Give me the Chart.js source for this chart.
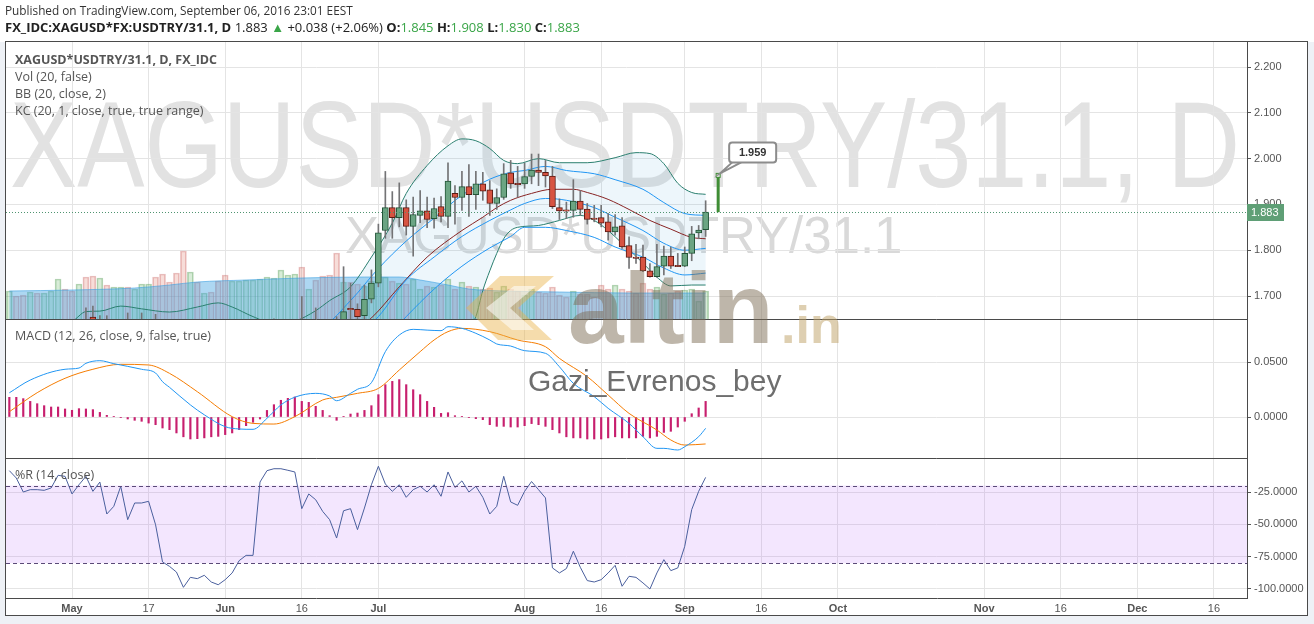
<!DOCTYPE html>
<html>
<head>
<meta charset="utf-8">
<title>XAGUSD*USDTRY/31.1, D</title>
<script src="https://cdn.jsdelivr.net/npm/chart.js@4.4.1/dist/chart.umd.min.js"></script>
<style>
  html, body { margin: 0; padding: 0; background: #fff; }
  body { width: 1314px; height: 624px; position: relative; overflow: hidden; font-family: "Open Sans", sans-serif; }
  .abs { position: absolute; white-space: nowrap; }
  #wmBig { left: 10px; top: 84px; font: 122px/122px "Liberation Sans Narrow", sans-serif; color: #e2e2e2; transform-origin: 0 0; }
  #wmSmall { left: 345px; top: 210px; font: 51px/51px "Liberation Sans", sans-serif; color: #d9d9d9; }
  #chart { position: absolute; left: 0; top: 0; }
  #pub { left: 5px; top: 2px; font-size: 11.8px; line-height: 17px; color: #333; }
  #sym { left: 5px; top: 19px; font-size: 13px; line-height: 17px; color: #222; }
  .g { color: #3aa548; }
  .leg { left: 15px; font-size: 12.5px; line-height: 17px; color: #555; }
  #altin { left: 568px; top: 258px; font: bold 100px/100px "Liberation Sans", sans-serif; color: rgba(125,110,85,0.5); }
  #dotin { left: 781px; top: 299px; font: bold 52px/52px "Liberation Sans", sans-serif; color: rgba(190,160,100,0.5); }
  #chev { left: 462px; top: 268px; }
  #gazi { left: 528px; top: 366px; font: 30px/30px "Liberation Sans", sans-serif; color: #6e6e6e; }
</style>
</head>
<body>
<div id="wmBig" class="abs">XAGUSD*USDTRY/31.1, D</div>
<div id="wmSmall" class="abs">XAGUSD*USDTRY/31.1</div>
<canvas id="chart" width="1314" height="624"></canvas>

<div id="pub" class="abs">Published on TradingView.com, September 06, 2016 23:01 EEST</div>
<div id="sym" class="abs"><b>FX_IDC:XAGUSD*FX:USDTRY/31.1, D</b> 1.883 <span class="g">&#9650;</span> +0.038 (+2.06%) <b>O:</b><span class="g">1.845</span> <b>H:</b><span class="g">1.908</span> <b>L:</b><span class="g">1.830</span> <b>C:</b><span class="g">1.883</span></div>
<div class="abs leg" style="top:51px"><b>XAGUSD*USDTRY/31.1, D, FX_IDC</b></div>
<div class="abs leg" style="top:68px">Vol (20, false)</div>
<div class="abs leg" style="top:85px">BB (20, close, 2)</div>
<div class="abs leg" style="top:102px">KC (20, 1, close, true, true range)</div>
<div class="abs leg" style="top:327px">MACD (12, 26, close, 9, false, true)</div>
<div class="abs leg" style="top:466px">%R (14, close)</div>

<svg id="chev" class="abs" width="100" height="80" viewBox="0 0 100 80">
  <polygon points="38,8 92,8 56,40 90,72 36,72 4,40" fill="rgba(232,178,70,0.45)"/>
  <polygon points="52,18 74,18 48,40 72,62 50,62 24,40" fill="rgba(255,255,255,0.55)"/>
</svg>
<div id="altin" class="abs">altin</div>
<div id="dotin" class="abs">.in</div>
<div id="gazi" class="abs">Gazi_Evrenos_bey</div>

<script>
// bar index 0 = Mon 2 May 2016, one index per weekday; first bar is Tue 19 Apr
const firstIdx = -9;

const opens = [
  1.625,1.635,1.628,1.615,1.620,1.618,1.622,1.625,1.640,1.638,
  1.622,1.645,1.654,1.630,1.645,1.615,1.625,1.640,1.610,1.625,
  1.626,1.628,1.600,1.575,1.572,1.565,1.552,1.566,1.562,1.568,
  1.560,1.566,1.560,1.568,1.582,1.588,1.589,1.632,1.642,1.640,
  1.641,1.638,1.643,1.610,1.620,1.615,1.612,1.600,1.625,1.673,
  1.671,1.657,1.693,1.728,1.843,1.893,1.871,1.893,1.852,1.876,
  1.886,1.869,1.895,1.874,1.924,1.915,1.939,1.921,1.945,1.932,
  1.902,1.915,1.969,1.946,1.945,1.961,1.975,1.970,1.962,1.893,
  1.888,1.887,1.907,1.890,1.870,1.871,1.862,1.840,1.853,1.810,
  1.785,1.785,1.755,1.742,1.765,1.787,1.767,1.765,1.793,1.838,
  1.845];
const highs = [
  1.640,1.642,1.636,1.630,1.628,1.630,1.635,1.645,1.646,1.642,
  1.640,1.674,1.678,1.657,1.657,1.632,1.645,1.663,1.630,1.663,
  1.640,1.660,1.612,1.585,1.580,1.575,1.572,1.572,1.575,1.570,
  1.566,1.570,1.572,1.585,1.592,1.595,1.640,1.648,1.650,1.649,
  1.649,1.648,1.699,1.625,1.674,1.630,1.625,1.655,1.764,1.728,
  1.683,1.724,1.757,1.857,1.972,1.928,1.947,1.910,1.916,1.930,
  1.916,1.914,1.917,1.991,1.941,1.972,1.987,1.972,1.970,1.952,
  1.934,1.989,1.996,1.983,1.990,2.010,2.010,1.996,1.983,1.912,
  1.905,1.954,1.930,1.902,1.898,1.898,1.880,1.878,1.871,1.829,
  1.813,1.811,1.771,1.813,1.809,1.807,1.793,1.807,1.852,1.854,
  1.908];
const lows = [
  1.615,1.622,1.610,1.608,1.612,1.612,1.615,1.620,1.628,1.618,
  1.620,1.638,1.625,1.625,1.610,1.610,1.620,1.605,1.605,1.615,
  1.618,1.595,1.570,1.565,1.560,1.548,1.550,1.558,1.558,1.556,
  1.552,1.550,1.556,1.565,1.575,1.580,1.588,1.625,1.635,1.632,
  1.630,1.630,1.600,1.600,1.610,1.605,1.595,1.580,1.600,1.650,
  1.645,1.650,1.685,1.720,1.826,1.826,1.851,1.833,1.787,1.860,
  1.849,1.848,1.862,1.849,1.857,1.887,1.874,1.889,1.909,1.876,
  1.889,1.911,1.935,1.916,1.935,1.945,1.941,1.938,1.891,1.867,
  1.869,1.872,1.876,1.857,1.862,1.851,1.822,1.833,1.804,1.760,
  1.771,1.753,1.741,1.741,1.746,1.760,1.764,1.764,1.777,1.825,
  1.830];
const closes = [
  1.635,1.628,1.615,1.620,1.618,1.622,1.625,1.640,1.638,1.622,
  1.635,1.642,1.630,1.645,1.615,1.625,1.640,1.610,1.625,1.626,
  1.628,1.600,1.575,1.572,1.565,1.552,1.566,1.562,1.568,1.560,
  1.558,1.560,1.568,1.582,1.588,1.589,1.632,1.642,1.645,1.646,
  1.645,1.643,1.610,1.620,1.615,1.612,1.600,1.590,1.666,1.670,
  1.655,1.693,1.728,1.838,1.893,1.871,1.893,1.852,1.878,1.886,
  1.867,1.891,1.874,1.951,1.915,1.939,1.921,1.945,1.929,1.902,
  1.915,1.967,1.945,1.943,1.961,1.975,1.970,1.962,1.895,1.886,
  1.885,1.907,1.889,1.867,1.867,1.859,1.840,1.851,1.807,1.784,
  1.782,1.755,1.742,1.764,1.787,1.765,1.764,1.793,1.836,1.844,
  1.883];
const volumes = [
  28,23,24,27,26,26,28,40,30,28,
  35,42,43,41,34,32,32,32,30,35,
  35,42,45,37,46,68,47,37,26,27,
  38,44,38,38,39,39,40,42,41,49,
  44,45,52,30,39,43,44,66,37,37,
  35,33,38,45,42,38,36,35,40,30,
  33,32,34,40,30,37,33,32,30,31,
  27,33,30,28,24,30,27,26,32,24,
  22,28,25,25,22,34,30,34,30,28,
  26,36,30,32,25,26,28,29,30,18,
  28];
const histogram = [
  0.0179,0.0179,0.0167,0.0142,0.0121,0.0103,0.0091,0.0091,0.0073,0.0061,
  0.0076,0.0073,0.0067,0.0042,0.0015,0.0006,-0.0006,-0.0018,-0.003,-0.0039,
  -0.0055,-0.007,-0.010,-0.0115,-0.0145,-0.018,-0.020,-0.0197,-0.019,-0.018,
  -0.0176,-0.016,-0.0145,-0.0115,-0.0079,-0.0048,-0.0018,0.006,0.0112,0.0152,
  0.017,0.0182,0.0142,0.0133,0.0097,0.006,0.0012,-0.003,0.0006,0.0027,
  0.0036,0.006,0.0103,0.0203,0.0294,0.0324,0.034,0.0294,0.0248,0.0203,
  0.0142,0.0088,0.0033,0.0039,0.0012,0.0006,-0.0006,-0.0015,-0.0024,-0.007,
  -0.0085,-0.0085,-0.0091,-0.0091,-0.0079,-0.006,-0.007,-0.0085,-0.0115,-0.0145,
  -0.018,-0.019,-0.019,-0.020,-0.020,-0.020,-0.019,-0.018,-0.019,-0.019,
  -0.019,-0.0176,-0.019,-0.0176,-0.014,-0.013,-0.0091,-0.0039,0.003,0.0082,
  0.0142];
const williamsR = [
  -8.5,-14.2,-25,-23.2,-23.2,-23.7,-21.9,-12.1,-12.9,-26.5,
  -19.4,-12.9,-24.5,-17.3,-42,-36.1,-20.6,-46.4,-33.5,-33.5,
  -32.2,-50.3,-79.1,-82.5,-86.9,-98.7,-91,-92,-89.4,-94.6,
  -96.7,-92.8,-87.6,-78.1,-74,-74,-17.3,-8.5,-7,-7,
  -8.2,-9.5,-37.9,-26.5,-31,-40,-46.4,-60.6,-39.5,-37.9,
  -54.1,-37.4,-19.4,-5.1,-18.8,-24.5,-19.4,-29.1,-23.2,-20.6,
  -25,-19.4,-28.3,-9.5,-21.5,-16.4,-25,-20.6,-29.1,-42,
  -36.1,-12.9,-32.7,-35.3,-24.5,-16.9,-23.2,-29.6,-83.7,-87.6,
  -84.2,-70.8,-83.2,-93.5,-94.6,-92.8,-87.6,-81.7,-97.9,-90.2,
  -91,-95.3,-100,-87.6,-77.3,-85.8,-83.7,-67,-38.6,-24.5,
  -13.7];

// indicator lines as [bar index, value]
const bbUpper = [[-9,1.630],[-4,1.638],[0,1.645],[2,1.666],[4,1.667],[7,1.678],[10,1.672],[14,1.665],[18,1.676],[21,1.685],[23,1.676],[26,1.655],[29,1.640],[32,1.645],[35,1.668],[37,1.690],[40,1.720],[43,1.785],[46,1.859],[48,1.924],[51,1.985],[54,2.028],[56,2.043],[58,2.039],[60,2.022],[62,1.996],[64,1.989],[67,2.000],[70,1.991],[74,1.991],[78,2.002],[81,2.013],[83,2.011],[85,1.989],[87,1.946],[89,1.926],[91,1.922]];
const bbBasis = [[-9,1.590],[10,1.600],[20,1.595],[30,1.590],[38,1.600],[41,1.630],[43,1.652],[47,1.720],[51,1.785],[56,1.843],[59,1.872],[61,1.893],[63,1.909],[66,1.924],[69,1.933],[72,1.933],[74,1.926],[77,1.911],[80,1.889],[83,1.865],[86,1.846],[89,1.828],[91,1.825]];
const bbLower = [[-9,1.550],[10,1.530],[20,1.520],[30,1.520],[38,1.520],[44,1.510],[50,1.530],[55,1.590],[57,1.630],[58,1.655],[59,1.712],[60,1.755],[61,1.793],[62,1.825],[63,1.843],[64,1.850],[67,1.854],[70,1.865],[73,1.876],[75,1.865],[77,1.843],[79,1.815],[82,1.772],[84,1.741],[86,1.722],[89,1.724],[91,1.724]];
const kcUpper = [[-9,1.635],[0,1.640],[10,1.645],[20,1.630],[30,1.625],[36,1.635],[40,1.690],[44,1.760],[48,1.820],[52,1.870],[56,1.920],[60,1.955],[63,1.970],[65,1.974],[68,1.983],[71,1.974],[75,1.967],[78,1.954],[82,1.933],[85,1.904],[88,1.880],[91,1.876]];
const kcBasis = [[-9,1.600],[10,1.605],[20,1.590],[30,1.595],[38,1.605],[41,1.615],[44,1.655],[48,1.735],[52,1.785],[56,1.830],[60,1.865],[63,1.888],[65,1.902],[68,1.913],[71,1.909],[75,1.893],[78,1.872],[82,1.843],[85,1.815],[88,1.800],[91,1.804]];
const kcLower = [[-9,1.560],[20,1.550],[38,1.560],[44,1.590],[48,1.655],[52,1.715],[56,1.765],[60,1.805],[63,1.830],[65,1.850],[68,1.850],[71,1.843],[75,1.828],[78,1.807],[82,1.785],[85,1.761],[88,1.746],[91,1.750]];
const volMa = [[-9,28],[0,29],[9,31],[14,34],[18,37],[25,39],[33,41],[42,42],[47,42],[50,39],[54,34],[57,30],[62,28],[70,27],[80,26],[91,26]];
const macdLine = [[-9,0.022],[-6,0.0336],[-1,0.0434],[1,0.0445],[2,0.0488],[4,0.0512],[6,0.0485],[10,0.0434],[12,0.040],[13,0.0321],[14,0.027],[17,0.011],[19,0.002],[22,-0.0088],[24,-0.0109],[26,-0.0112],[28,-0.0012],[30,0.011],[32,0.018],[35,0.0215],[37,0.0191],[38,0.0148],[40,0.0215],[41,0.0252],[43,0.0312],[45,0.0594],[47,0.0745],[49,0.0797],[51,0.0790],[53,0.0785],[54,0.0821],[56,0.0806],[58,0.0761],[60,0.070],[61,0.0664],[63,0.0645],[65,0.0603],[68,0.0579],[70,0.0457],[72,0.0306],[75,0.0185],[77,0.0079],[80,-0.0058],[82,-0.0179],[84,-0.0285],[85,-0.0285],[87,-0.030],[88,-0.027],[90,-0.0179],[91,-0.0103]];
const signalLine = [[-9,0.0048],[-5,0.0221],[-1,0.0352],[3,0.0434],[7,0.0479],[11,0.0473],[14,0.0397],[18,0.023],[23,0.0003],[26,-0.0058],[29,-0.0064],[32,0.0003],[36,0.0155],[38,0.0179],[41,0.0215],[44,0.026],[47,0.0427],[50,0.0594],[52,0.070],[54,0.0776],[56,0.0806],[60,0.0776],[64,0.070],[68,0.0639],[70,0.0533],[74,0.0367],[77,0.020],[80,0.0033],[84,-0.0118],[86,-0.0209],[88,-0.0255],[91,-0.0245]];

// axis ticks
const tickIdx = [0, 11, 22, 33, 44, 65, 76, 88, 99, 110, 131, 142, 153, 164];
const tickText = ['May', '17', 'Jun', '16', 'Jul', 'Aug', '16', 'Sep', '16', 'Oct', 'Nov', '16', 'Dec', '16'];
const priceTicks = [1.7, 1.8, 1.9, 2.0, 2.1, 2.2];
const macdTicks = [0, 0.05];
const wrTicks = [-25, -50, -75, -100];
const wrLevels = [-20, -80];

// price note drawn on the chart
const noteIdx = 92.8, noteLow = 1.883, noteHigh = 1.959;

const idx = opens.map((_, i) => firstIdx + i);
const isUp = idx.map((_, i) => closes[i] >= opens[i]);
const lastClose = closes[closes.length - 1];
const pairs = a => a.map(([x, y]) => ({x, y}));

function lineDs(label, data, color, axis, order, extra) {
  return Object.assign({
    type: 'line', label, data, yAxisID: axis, borderColor: color, borderWidth: 1,
    pointRadius: 0, cubicInterpolationMode: 'monotone', fill: false, order, clip: 0
  }, extra || {});
}

const decor = {
  id: 'decor',
  beforeDraw(chart) {
    const {ctx, width, height, chartArea: a, scales: {x}} = chart;
    const fb = x.bottom, fr = width - 6;
    ctx.save();
    ctx.fillStyle = '#eef1f6';
    ctx.fillRect(0, fb, width, height - fb);
    ctx.fillRect(fr, a.top, width - fr, fb - a.top);
    ctx.fillRect(0, a.top, a.left, fb - a.top);
    ctx.restore();
  },
  beforeDatasetsDraw(chart) {
    const {ctx, chartArea: a, scales: {yPrice, yWr}} = chart;
    ctx.save();
    // %R band
    const t = yWr.getPixelForValue(wrLevels[0]), b = yWr.getPixelForValue(wrLevels[1]);
    ctx.fillStyle = 'rgba(180,100,250,0.16)';
    ctx.fillRect(a.left, t, a.width, b - t);
    // Bollinger background
    const metaOf = label => chart.getDatasetMeta(chart.data.datasets.findIndex(d => d.label === label));
    const up = metaOf('BB upper').dataset, lo = metaOf('BB lower').dataset;
    up.updateControlPoints(a, 'x');
    lo.updateControlPoints(a, 'x');
    ctx.beginPath();
    ctx.rect(a.left, yPrice.top, a.width, yPrice.bottom - yPrice.top);
    ctx.clip();
    ctx.beginPath();
    up.pathSegment(ctx, up.segments[0], {move: true});
    lo.pathSegment(ctx, lo.segments[0], {move: false, reverse: true});
    ctx.closePath();
    ctx.fillStyle = 'rgba(60,160,210,0.09)';
    ctx.fill();
    ctx.restore();
  },
  afterDatasetsDraw(chart) {
    const {ctx, chartArea: a, scales: {x, yPrice, yWr}} = chart;
    ctx.save();
    // %R levels
    ctx.strokeStyle = '#5a4a78';
    ctx.lineWidth = 1;
    ctx.setLineDash([4, 3]);
    wrLevels.forEach(v => {
      const y = Math.round(yWr.getPixelForValue(v)) + 0.5;
      ctx.beginPath(); ctx.moveTo(a.left, y); ctx.lineTo(a.right, y); ctx.stroke();
    });
    // last price line
    ctx.strokeStyle = '#4f9470';
    ctx.setLineDash([1, 2]);
    const yl = Math.round(yPrice.getPixelForValue(lastClose)) + 0.5;
    ctx.beginPath(); ctx.moveTo(a.left, yl); ctx.lineTo(a.right, yl); ctx.stroke();
    ctx.setLineDash([]);
    // price note
    const nx = x.getPixelForValue(noteIdx);
    const nt = yPrice.getPixelForValue(noteHigh), nb = yPrice.getPixelForValue(noteLow);
    ctx.fillStyle = '#3f8d35';
    ctx.fillRect(nx - 1.5, nt, 3, nb - nt);
    ctx.strokeStyle = '#3f8d35';
    ctx.strokeRect(nx - 2, nt - 4, 4, 4);
    const bx = nx + 11, by = nt - 35, bw = 47, bh = 20;
    ctx.strokeStyle = '#8c8c8c';
    ctx.lineWidth = 2;
    ctx.beginPath(); ctx.moveTo(bx + 3, by + bh); ctx.lineTo(nx + 2, nt - 4); ctx.lineTo(bx + 12, by + bh); ctx.stroke();
    ctx.beginPath();
    ctx.roundRect(bx, by, bw, bh, 3);
    ctx.fillStyle = '#fff'; ctx.fill(); ctx.stroke();
    ctx.fillStyle = '#333';
    ctx.font = 'bold 11px "Liberation Sans", Arial, sans-serif';
    ctx.textAlign = 'center'; ctx.textBaseline = 'middle';
    ctx.fillText(noteHigh.toFixed(3), bx + bw / 2, by + bh / 2 + 1);
    ctx.restore();
  },
  afterDraw(chart) {
    const {ctx, width, chartArea: a, scales: {x, yPrice, yMacd}} = chart;
    ctx.save();
    ctx.strokeStyle = '#4a4a4a';
    ctx.lineWidth = 1;
    // pane separators
    [yPrice.bottom, yMacd.bottom].forEach(y => {
      const yy = Math.round(y) + 0.5;
      ctx.beginPath(); ctx.moveTo(a.left, yy); ctx.lineTo(a.right, yy); ctx.stroke();
    });
    // frame
    ctx.strokeRect(a.left - 0.5, a.top - 0.5, width - 6 - a.left, x.bottom - a.top);
    // last price label
    const yl = Math.round(yPrice.getPixelForValue(lastClose));
    ctx.fillStyle = '#5f9f76';
    ctx.fillRect(a.right, yl - 8, 37, 17);
    ctx.fillStyle = '#fff';
    ctx.font = '11px "Liberation Sans", Arial, sans-serif';
    ctx.textAlign = 'left'; ctx.textBaseline = 'middle';
    ctx.fillText(lastClose.toFixed(3), a.right + 4, yl + 1);
    ctx.restore();
  }
};

Chart.defaults.font.family = '"Liberation Sans", Arial, sans-serif';
Chart.defaults.font.size = 11;
Chart.defaults.color = '#555';

const gridCol = '#e4e4e4';
const yAxis = (weight, min, max, ticks, digits) => ({
  type: 'linear', position: 'right', stack: 'panes', stackWeight: weight, min, max,
  grid: { color: gridCol, tickLength: 4, tickColor: '#555' },
  border: { display: true, color: '#4a4a4a' },
  ticks: { padding: 3, color: '#555', callback: v => v.toFixed(digits) },
  afterBuildTicks: s => { s.ticks = ticks.map(v => ({value: v})); },
  afterFit: s => { s.width = 63; }
});

new Chart(document.getElementById('chart'), {
  type: 'bar',
  data: {
    datasets: [
      { type: 'bar', label: 'candles', yAxisID: 'yPrice', order: 1, clip: 0, grouped: false,
        data: idx.map((x, i) => ({x, y: [opens[i], closes[i]]})),
        backgroundColor: isUp.map(u => u ? '#6ba583' : '#d75442'),
        borderColor: isUp.map(u => u ? '#225437' : '#5b1a13'),
        borderWidth: 1, borderSkipped: false, barThickness: 6, maxBarThickness: 6 },
      { type: 'bar', label: 'wicks', yAxisID: 'yPrice', order: 2, clip: 0, grouped: false,
        data: idx.map((x, i) => ({x, y: [lows[i], highs[i]]})),
        backgroundColor: '#737375', barThickness: 1, maxBarThickness: 1 },
      lineDs('KC upper', pairs(kcUpper), '#2196f3', 'yPrice', 3),
      lineDs('KC basis', pairs(kcBasis), '#2196f3', 'yPrice', 3),
      lineDs('KC lower', pairs(kcLower), '#2196f3', 'yPrice', 3),
      lineDs('BB upper', pairs(bbUpper), '#2a7f6f', 'yPrice', 4),
      lineDs('BB basis', pairs(bbBasis), '#872323', 'yPrice', 4),
      lineDs('BB lower', pairs(bbLower), '#2a7f6f', 'yPrice', 4),
      lineDs('Vol MA', pairs(volMa), 'rgba(60,160,225,0.6)', 'yVol', 5,
        { fill: {value: 0}, backgroundColor: 'rgba(60,160,225,0.42)' }),
      { type: 'bar', label: 'Vol', yAxisID: 'yVol', order: 6, clip: 0, grouped: false,
        data: idx.map((x, i) => ({x, y: volumes[i]})),
        backgroundColor: isUp.map(u => u ? 'rgba(100,180,100,0.25)' : 'rgba(215,84,66,0.2)'),
        borderColor: isUp.map(u => u ? 'rgba(90,160,90,0.45)' : 'rgba(200,100,100,0.4)'),
        borderWidth: 1, barThickness: 6, maxBarThickness: 6 },
      lineDs('MACD', pairs(macdLine), '#2196f3', 'yMacd', 1),
      lineDs('Signal', pairs(signalLine), '#f57c00', 'yMacd', 1),
      { type: 'bar', label: 'Histogram', yAxisID: 'yMacd', order: 2, clip: 0, grouped: false,
        data: idx.map((x, i) => ({x, y: histogram[i]})),
        backgroundColor: '#c71f6e', barThickness: 1.5, maxBarThickness: 1.5 },
      lineDs('%R', idx.map((x, i) => ({x, y: williamsR[i]})), '#4a5f9d', 'yWr', 1,
        { cubicInterpolationMode: 'default', tension: 0 })
    ]
  },
  options: {
    responsive: false,
    animation: false,
    indexAxis: 'x',
    layout: { padding: { left: 6, right: 4, top: 42, bottom: 8 } },
    plugins: { legend: { display: false }, tooltip: { enabled: false } },
    scales: {
      x: {
        type: 'linear', min: -9.48, max: 168.75, offset: false,
        grid: { color: gridCol, offset: false, drawTicks: false },
        border: { display: true, color: '#4a4a4a' },
        ticks: {
          autoSkip: false, maxRotation: 0, padding: 4, color: '#555',
          callback: v => { const k = tickIdx.indexOf(v); return k < 0 ? '' : tickText[k]; },
          font: c => ({ size: 11, weight: (c.tick && isNaN(Number(c.tick.label))) ? 'bold' : 'normal' })
        },
        afterBuildTicks: s => { s.ticks = tickIdx.map(v => ({value: v})); },
        afterFit: s => { s.height = 18; }
      },
      yPrice: yAxis(277, 1.6498, 2.2546, priceTicks, 3),
      yMacd: yAxis(139, -0.03727, 0.0891, macdTicks, 4),
      yWr: yAxis(140, -106.96, 1.29, wrTicks, 4),
      yVol: { type: 'linear', position: 'right', display: false, min: -279, max: 277 }
    }
  },
  plugins: [decor]
});

// fit the big watermark to its width
const wm = document.getElementById('wmBig');
wm.style.transform = 'scaleX(' + (1230 / wm.getBoundingClientRect().width) + ')';
</script>
</body>
</html>
